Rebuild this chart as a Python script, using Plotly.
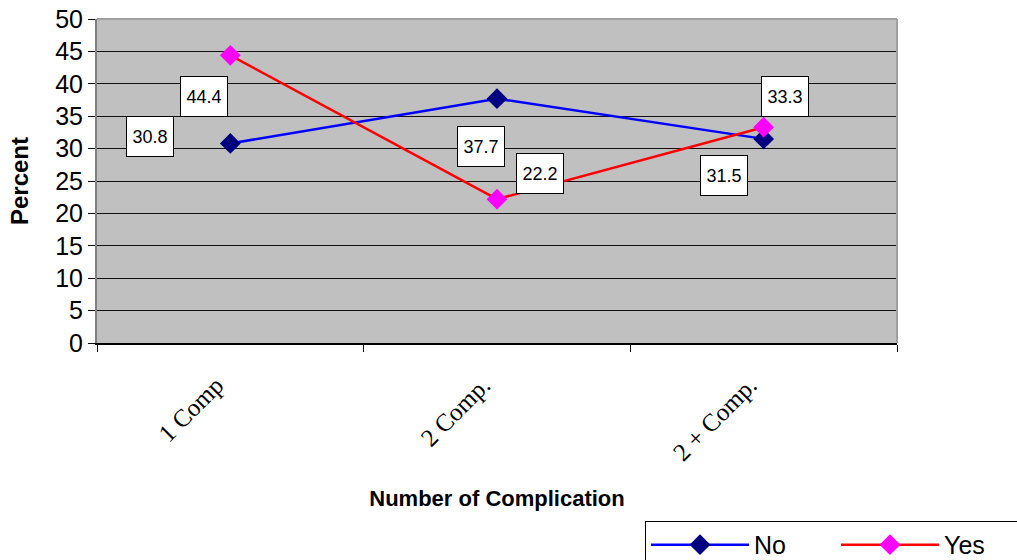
import plotly.graph_objects as go

# Share of patients by number of complications
categories = ["1 Comp", "2 Comp.", "2 + Comp."]
no_values = [30.8, 37.7, 31.5]
yes_values = [44.4, 22.2, 33.3]

# Label box centres as (category offset, y) next to each point
no_label_pos = [(-0.30, 31.9), (-0.06, 30.4), (-0.15, 25.9)]
yes_label_pos = [(-0.10, 38.0), (0.16, 26.1), (0.08, 38.0)]

fig = go.Figure()
fig.add_trace(go.Scatter(
    x=categories, y=no_values, name="No", mode="lines+markers",
    line=dict(color="#0000FF", width=2.5),
    marker=dict(symbol="diamond", size=16, color="#000080"),
))
fig.add_trace(go.Scatter(
    x=categories, y=yes_values, name="Yes", mode="lines+markers",
    line=dict(color="#FF0000", width=2.5),
    marker=dict(symbol="diamond", size=16, color="#FF00FF"),
))

annotations = []
for vals, poss in ((no_values, no_label_pos), (yes_values, yes_label_pos)):
    for i, (v, (dx, ly)) in enumerate(zip(vals, poss)):
        annotations.append(dict(
            x=i + dx, y=ly, xref="x", yref="y", text=f"{v:.1f}",
            showarrow=False, bgcolor="white", bordercolor="#000000",
            borderwidth=1, width=44, height=37,
            font=dict(family="Liberation Sans, Arial", size=18, color="black"),
        ))

fig.update_layout(
    width=1017, height=560,
    margin=dict(l=97, r=120, t=19, b=217, autoexpand=False),
    paper_bgcolor="white", plot_bgcolor="#C0C0C0",
    annotations=annotations,
    showlegend=True,
    legend=dict(
        orientation="h", x=0.685, y=-0.549, xanchor="left", yanchor="top",
        bordercolor="black", borderwidth=1, bgcolor="white",
        font=dict(family="Liberation Sans, Arial", size=25, color="black"),
        itemwidth=98, entrywidth=77,
    ),
)
fig.update_xaxes(
    type="category", range=[-0.5, 2.5], tickangle=-45, automargin=False,
    tickfont=dict(family="Liberation Serif, Times New Roman", size=25, color="black"),
    ticklabelstandoff=16, ticklabelshift=-14,
    showgrid=False, showline=True, linecolor="#000000", linewidth=1.5, mirror=False,
    ticks="outside", ticklen=7, tickcolor="#000000", tickson="boundaries",
    title=dict(text="<b>Number of Complication</b>", standoff=26,
               font=dict(family="Liberation Sans, Arial", size=22, color="black")),
)
fig.update_yaxes(
    range=[0, 50], dtick=5, tick0=0, automargin=False,
    tickfont=dict(family="Liberation Sans, Arial", size=25, color="black"),
    showgrid=True, gridcolor="#111111", gridwidth=1.2, zeroline=False,
    showline=True, linecolor="#808080", linewidth=2, mirror=False,
    ticks="outside", ticklen=7, tickcolor="#000000",
    title=dict(text="<b>Percent</b>", standoff=20,
               font=dict(family="Liberation Sans, Arial", size=24, color="black")),
)
# Grey frame along the top and right of the plotting area
fig.add_shape(type="line", xref="paper", yref="paper", x0=0, x1=1, y0=1, y1=1,
              line=dict(color="#A0A0A0", width=2))
fig.add_shape(type="line", xref="paper", yref="paper", x0=1, x1=1, y0=0, y1=1,
              line=dict(color="#A0A0A0", width=2))

fig.write_html("out.html")
